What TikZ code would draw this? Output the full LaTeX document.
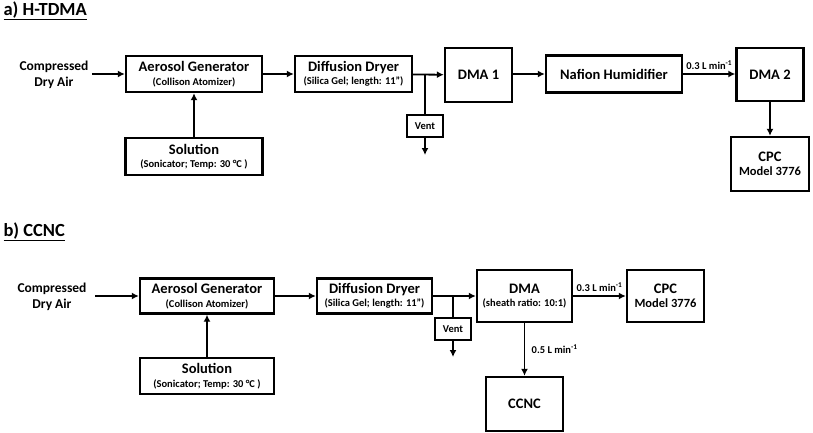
\documentclass[tikz,border=0pt]{standalone}
\usepackage{fontspec}
\setmainfont{Carlito}
\usepackage{tikz}
\usetikzlibrary{arrows.meta,positioning}
\tikzstyle{arrow} = [line width=1.8pt,-{Latex[length=7pt,width=7pt]}]
\tikzstyle{unit} = [rectangle, draw, line width=2.4pt, align=center, inner sep=1pt, font=\bfseries\fontsize{14.5}{15.5}\selectfont]
\tikzstyle{ventbox} = [rectangle, draw, line width=2.4pt, minimum width=36pt, minimum height=22pt, inner sep=1pt, font=\bfseries\fontsize{10.5}{11}\selectfont]
\tikzstyle{flowlabel} = [font=\bfseries\fontsize{10.5}{11}\selectfont]
\tikzstyle{sourcelabel} = [align=center, font=\bfseries\fontsize{13.5}{15.5}\selectfont]
\tikzstyle{panel} = [anchor=west, font=\bfseries\fontsize{18.5}{19}\selectfont]
\newcommand{\sub}[1]{\\[-2pt]{\fontsize{10.5}{11}\selectfont #1}}
\newcommand{\subb}[1]{\\[-1pt]{\fontsize{12.5}{13}\selectfont #1}}
\begin{document}
\begin{tikzpicture}[x=1pt,y=-1pt]
\useasboundingbox (0,0) rectangle (813,433);

% a) H-TDMA
\node[panel] (ta) at (0,11) {\underline{a) H-TDMA}};
\node[sourcelabel] (air1) at (54,75) {Compressed\\Dry Air};
\node[unit, minimum width=136pt, minimum height=36pt] (gen1) at (194,74) {Aerosol Generator\sub{(Collison Atomizer)}};
\node[unit, minimum width=117pt, minimum height=36pt] (dry1) at (353.5,74) {Diffusion Dryer\sub{(Silica Gel; length: 11")}};
\node[unit, minimum width=137pt, minimum height=37pt] (sol1) at (194,156.5) {Solution\sub{(Sonicator; Temp: 30 \textdegree C )}};
\coordinate (j1) at (425,74);
\node[ventbox] (vent1) at (425,126) {Vent};
\coordinate (out1) at (425,155);
\node[unit, minimum width=67pt, minimum height=54pt] (dma1) at (478.5,75) {DMA 1};
\node[unit, minimum width=136pt, minimum height=37pt] (naf) at (614,74) {Nafion Humidifier};
\node[unit, minimum width=67pt, minimum height=53pt] (dma2) at (770,74.5) {DMA 2};
\node[unit, minimum width=78pt, minimum height=54pt] (cpc1) at (770,164) {CPC\subb{Model 3776}};

% Connections a)
\draw[arrow] (air1.east |- gen1) -- (gen1);
\draw[arrow] (sol1) -- (gen1);
\draw[arrow] (gen1) -- (dry1);
\draw[arrow] (dry1) -- (dma1);
\draw[line width=1.8pt] (j1) -- (vent1);
\draw[arrow] (vent1) -- (out1);
\draw[arrow] (dma1.east |- naf) -- (naf);
\draw[arrow] (naf.east) -- node[flowlabel, above] {0.3 L min\textsuperscript{-1}} (naf.east -| dma2.west);
\draw[arrow] (dma2) -- (cpc1);

% b) CCNC
\node[panel] (tb) at (0,232) {\underline{b) CCNC}};
\node[sourcelabel] (air2) at (52,297) {Compressed\\Dry Air};
\node[unit, minimum width=134pt, minimum height=35pt] (gen2) at (207,296) {Aerosol Generator\sub{(Collison Atomizer)}};
\node[unit, minimum width=115pt, minimum height=35pt] (dry2) at (374.5,296) {Diffusion Dryer\sub{(Silica Gel; length: 11")}};
\node[unit, minimum width=134pt, minimum height=36pt] (sol2) at (207,376) {Solution\sub{(Sonicator; Temp: 30 \textdegree C )}};
\coordinate (j2) at (453,296);
\node[ventbox] (vent2) at (453,329) {Vent};
\coordinate (out2) at (453,357);
\node[unit, minimum width=95pt, minimum height=52pt] (dma) at (524.5,296) {DMA\sub{(sheath ratio: 10:1)}};
\node[unit, minimum width=77pt, minimum height=52pt] (cpc2) at (665.5,296) {CPC\subb{Model 3776}};
\node[unit, minimum width=77pt, minimum height=54pt] (ccnc) at (524.5,404) {CCNC};

% Connections b)
\coordinate (s2) at (95,296);
\draw[arrow] (s2) -- (gen2);
\draw[arrow] (sol2) -- (gen2);
\draw[arrow] (gen2) -- (dry2);
\draw[arrow] (dry2) -- (dma);
\draw[line width=1.8pt] (j2) -- (vent2);
\draw[arrow] (vent2) -- (out2);
\draw[arrow] (dma) -- node[flowlabel, above] {0.3 L min\textsuperscript{-1}} (cpc2);
\draw[arrow] (dma) -- node[flowlabel, right=3pt] {0.5 L min\textsuperscript{-1}} (ccnc);
\end{tikzpicture}
\end{document}
